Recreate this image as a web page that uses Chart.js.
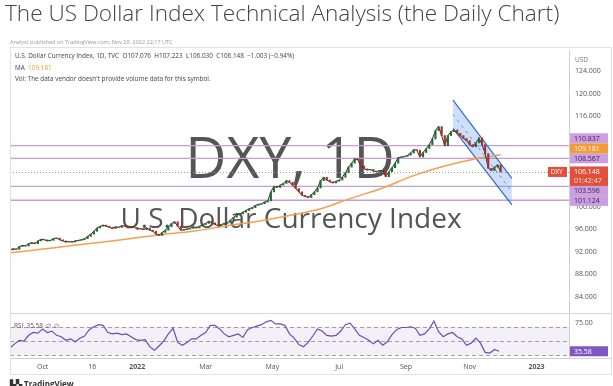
<!DOCTYPE html>
<html>
<head>
<meta charset="utf-8">
<script src="https://cdn.jsdelivr.net/npm/chart.js@4.4.0/dist/chart.umd.min.js"></script>
<style>
  html, body { margin: 0; padding: 0; background: #fff; }
  #wrap { position: relative; width: 613px; height: 386px; overflow: hidden; font-family: "Open Sans", sans-serif; }
  #title { position: absolute; left: 5px; top: -3px; font-size: 22.6px; font-weight: 300; color: #444; white-space: nowrap; }
  #pub { position: absolute; left: 10px; top: 38px; font-size: 5.5px; color: #9a9a9a; white-space: nowrap; }
  #legend { position: absolute; left: 15px; top: 50px; font-size: 6.4px; color: #444; line-height: 11.5px; white-space: nowrap; }
  #legend .ma { color: #f39c35; }
  #rsiLegend { position: absolute; left: 14px; top: 321px; font-size: 6.4px; color: #555; white-space: nowrap; }
  #tv { position: absolute; left: 10px; top: 378px; font-size: 8px; font-weight: bold; color: #333; white-space: nowrap; }
  canvas { position: absolute; left: 0; top: 0; }
</style>
</head>
<body>
<div id="wrap">
  <canvas id="dxyChart" width="613" height="386"></canvas>
  <div id="title">The US Dollar Index Technical Analysis (the Daily Chart)</div>
  <div id="pub">Analyst published on TradingView.com, Nov 29, 2022 22:17 UTC</div>
  <div id="legend">
    U.S. Dollar Currency Index, 1D, TVC&nbsp; O107.076&nbsp; H107.223&nbsp; L106.030&nbsp; C106.148&nbsp; −1.003 (−0.94%)<br>
    MA&nbsp; <span class="ma">109.181</span><br>
    Vol: The data vendor doesn't provide volume data for this symbol.
  </div>
  <div id="rsiLegend">RSI&nbsp; 35.58&nbsp; ∅&nbsp; ∅</div>
  <div id="tv">▙▚ TradingView</div>
</div>
<script>
// daily closes, read every 2nd trading day (Sep 2021 - Nov 2022)
var barStep = 2;
var closes = [
	92.3, 92.5, 92.4, 92.9, 93.1, 93.0, 93.4, 93.6, 93.4, 93.9,
	94.2, 94.1, 93.9, 94.0, 94.3, 94.4, 94.1, 93.9, 93.7, 93.8,
	93.7, 93.9, 94.0, 94.1, 94.3, 94.7, 95.1, 95.6, 96.2, 96.5,
	96.7, 96.5, 96.3, 96.1, 96.4, 96.3, 96.6, 96.5, 96.2, 96.4,
	96.3, 96.0, 96.1, 95.9, 96.2, 95.8, 95.6, 95.1, 94.9, 95.4,
	95.8, 96.4, 97.0, 97.3, 96.5, 95.8, 95.9, 96.0, 96.1, 96.4,
	96.2, 96.5, 96.8, 97.0, 97.4, 97.1, 96.8, 96.6, 96.8, 97.0,
	97.1, 97.6, 98.1, 98.5, 98.7, 99.0, 99.3, 99.6, 99.8, 100.2,
	100.4, 100.5, 100.8, 101.0, 102.6, 103.6, 103.4, 103.8, 104.1, 104.6,
	104.3, 103.8, 103.2, 102.6, 102.0, 101.8, 101.6, 102.1, 102.6, 103.3,
	104.6, 105.2, 104.7, 104.4, 104.2, 104.5, 104.7, 105.2, 106.0, 107.0,
	107.7, 108.5, 108.3, 107.2, 106.7, 106.5, 106.6, 106.3, 106.2, 106.4,
	106.4, 105.3, 106.2, 106.9, 107.7, 108.7, 108.8, 108.9, 109.1, 109.5,
	110.1, 110.0, 108.8, 109.6, 110.3, 111.0, 112.0, 113.5, 114.2, 112.6,
	110.8, 112.6, 113.3, 113.6, 113.0, 112.6, 112.1, 111.7, 111.0, 110.6,
	111.3, 112.2, 111.0, 109.4, 106.8, 106.4, 107.0, 107.4, 106.148
];
// moving average
var maBars = [0, 20, 40, 60, 80, 100, 120, 140, 160, 180, 200, 220, 240, 260, 280, 300, 316];
var maValues = [91.8, 92.4, 93.1, 93.7, 94.4, 95.1, 95.7, 96.6, 97.4, 98.4, 99.6, 101.5, 103.3, 105.5, 107.2, 108.5, 109.181];
// RSI, read every 3rd trading day
var rsiStep = 3;
var rsiValues = [
	40, 46, 51, 50, 58, 62, 61, 67, 62, 64,
	58, 56, 51, 53, 49, 54, 57, 66, 70, 73,
	72, 62, 60, 61, 59, 60, 56, 52, 51, 52,
	42, 37, 43, 50, 60, 68, 48, 44, 48, 53,
	53, 58, 62, 72, 72, 67, 60, 56, 58, 60,
	55, 66, 69, 71, 73, 77, 79, 74, 74, 72,
	60, 54, 45, 42, 48, 57, 67, 64, 58, 57,
	58, 64, 73, 75, 67, 58, 55, 51, 46, 51,
	44, 49, 59, 66, 69, 69, 70, 68, 58, 60,
	67, 78, 63, 56, 60, 62, 56, 53, 44, 47,
	54, 47, 34, 33, 38, 35.58
];
// horizontal levels drawn on the chart
var levels = [110.837, 108.567, 103.596, 101.124];
// descending channel (bar index / price)
var channelBars = [285.3, 323.2];
var channelTop = [118.9, 105.0];
var channelMid = [116.4, 102.65];
var channelBottom = [113.9, 100.3];
// axes
var priceTicks = [84, 88, 92, 96, 100, 116, 120, 124];
var rsiTicks = [75];
var tickBars = [21, 53, 82, 126, 169, 212, 255, 296, 339];
var tickLabels = ['Oct', '16', '2022', 'Mar', 'May', 'Jul', 'Sep', 'Nov', '2023'];

var lastClose = closes[closes.length - 1];
var lastMa = maValues[maValues.length - 1];
var lastRsi = rsiValues[rsiValues.length - 1];

Chart.defaults.font.family = '"Open Sans", sans-serif';
Chart.defaults.color = '#555';

function pts(bars, vals) {
	return vals.map(function(v, i) { return {x: bars[i], y: v}; });
}

function labelBox(ctx, yc, bg, fg, text) {
	ctx.fillStyle = bg;
	ctx.fillRect(570, yc - 5, 38, 10);
	ctx.fillStyle = fg;
	ctx.textBaseline = 'middle';
	ctx.textAlign = 'left';
	ctx.fillText(text, 574, yc + 0.5);
}

var overlay = {
	id: 'overlay',
	beforeDatasetsDraw: function(chart) {
		var ctx = chart.ctx, a = chart.chartArea, y = chart.scales.y, r = chart.scales.yRsi;
		ctx.save();
		// watermark
		ctx.fillStyle = '#555';
		ctx.textAlign = 'center';
		ctx.textBaseline = 'alphabetic';
		ctx.font = '400 57px "Open Sans", sans-serif';
		ctx.fillText('DXY, 1D', 290, 178);
		ctx.font = '400 28px "Open Sans", sans-serif';
		ctx.fillText('U.S. Dollar Currency Index', 291, 228);
		// rsi band
		ctx.fillStyle = 'rgba(126,87,194,0.09)';
		ctx.fillRect(a.left, r.getPixelForValue(70), a.right - a.left, r.getPixelForValue(30) - r.getPixelForValue(70));
		ctx.strokeStyle = '#a0a0a0';
		ctx.lineWidth = 1;
		ctx.setLineDash([4, 3]);
		[70, 50, 30].forEach(function(v) {
			var py = Math.round(r.getPixelForValue(v)) + 0.5;
			ctx.beginPath(); ctx.moveTo(a.left, py); ctx.lineTo(a.right, py); ctx.stroke();
		});
		// last price dotted line
		ctx.setLineDash([1, 2]);
		ctx.strokeStyle = '#9a9a9a';
		var lp = Math.round(y.getPixelForValue(lastClose)) + 0.5;
		ctx.beginPath(); ctx.moveTo(a.left, lp); ctx.lineTo(a.right, lp); ctx.stroke();
		// levels
		ctx.setLineDash([]);
		ctx.strokeStyle = '#c4a0d2';
		ctx.lineWidth = 1.3;
		levels.forEach(function(v) {
			var py = y.getPixelForValue(v);
			ctx.beginPath(); ctx.moveTo(a.left, py); ctx.lineTo(a.right, py); ctx.stroke();
		});
		ctx.restore();
	},
	afterDraw: function(chart) {
		var ctx = chart.ctx, a = chart.chartArea, y = chart.scales.y, r = chart.scales.yRsi;
		ctx.save();
		// pane separator, frame
		ctx.strokeStyle = '#d6d6d6';
		ctx.lineWidth = 1;
		var sep = Math.round(y.bottom) + 0.5;
		ctx.beginPath(); ctx.moveTo(a.left, sep); ctx.lineTo(612, sep); ctx.stroke();
		ctx.beginPath(); ctx.moveTo(569, a.bottom + 0.5); ctx.lineTo(612, a.bottom + 0.5); ctx.stroke();
		ctx.strokeStyle = '#e2e2e2';
		ctx.strokeRect(10.5, 47.5, 601, 327);
		ctx.font = '6.5px "Open Sans", sans-serif';
		ctx.fillStyle = '#777';
		ctx.textAlign = 'left';
		ctx.textBaseline = 'middle';
		ctx.fillText('USD', 575, 60);

		// price labels, pushed apart around the last price tag
		var lastY = y.getPixelForValue(lastClose);
		var items = levels.map(function(v) { return {v: v, bg: '#cb9fe0', fg: '#3b2a4f'}; });
		items.push({v: lastMa, bg: '#f39c35', fg: '#fff'});
		var above = items.filter(function(it) { return it.v > lastClose; }).sort(function(p, q) { return p.v - q.v; });
		var below = items.filter(function(it) { return it.v < lastClose; }).sort(function(p, q) { return q.v - p.v; });
		var lim = lastY - 5.5;
		above.forEach(function(it) {
			it.py = Math.min(y.getPixelForValue(it.v), lim - 5);
			lim = it.py - 5;
		});
		lim = lastY + 14;
		below.forEach(function(it) {
			it.py = Math.max(y.getPixelForValue(it.v), lim + 5);
			lim = it.py + 5;
		});
		ctx.font = '7px "Open Sans", sans-serif';
		above.concat(below).forEach(function(it) {
			labelBox(ctx, it.py, it.bg, it.fg, it.v.toFixed(3));
		});
		// last price tag
		ctx.fillStyle = '#e0503c';
		ctx.fillRect(570, lastY - 5.5, 38, 19.5);
		ctx.fillRect(548, lastY - 5, 19, 10);
		ctx.fillStyle = '#fff';
		ctx.fillText(lastClose.toFixed(3), 574, lastY + 0.5);
		ctx.fillStyle = '#ffe0da';
		ctx.fillText('01:42:47', 574, lastY + 9);
		ctx.fillStyle = '#fff';
		ctx.font = '6.5px "Open Sans", sans-serif';
		ctx.fillText('DXY', 550.5, lastY + 0.5);
		// rsi tag
		ctx.font = '7px "Open Sans", sans-serif';
		labelBox(ctx, r.getPixelForValue(lastRsi), '#7e57c2', '#fff', lastRsi.toFixed(2));
		ctx.restore();
	}
};

var bodies = closes.map(function(c, i) {
	return {x: i * barStep, y: [i ? closes[i - 1] : c, c]};
});

var dxyChart = new Chart(document.getElementById('dxyChart'), {
	type: 'line',
	data: {
		datasets: [
			{
				type: 'bar',
				data: bodies,
				yAxisID: 'y',
				barThickness: 1.5,
				backgroundColor: function(c) {
					var d = c.raw;
					return d && d.y[1] >= d.y[0] ? '#2a6b35' : '#a8322a';
				}
			},
			{
				data: closes.map(function(c, i) { return {x: i * barStep, y: c}; }),
				yAxisID: 'y',
				borderColor: '#2b2f2b',
				borderWidth: 1,
				pointRadius: 0
			},
			{
				data: pts(maBars, maValues),
				yAxisID: 'y',
				borderColor: '#f4a04e',
				borderWidth: 1.5,
				pointRadius: 0,
				cubicInterpolationMode: 'monotone'
			},
			{
				data: rsiValues.map(function(v, i) { return {x: i * rsiStep, y: v}; }),
				yAxisID: 'yRsi',
				borderColor: '#6a4fb3',
				borderWidth: 1.2,
				pointRadius: 0
			},
			{
				data: pts(channelBars, channelTop),
				yAxisID: 'y',
				borderColor: '#3366d6',
				borderWidth: 1.2,
				pointRadius: 0
			},
			{
				data: pts(channelBars, channelBottom),
				yAxisID: 'y',
				borderColor: '#3366d6',
				borderWidth: 1.2,
				pointRadius: 0,
				fill: '-1',
				backgroundColor: 'rgba(60,130,230,0.25)'
			},
			{
				data: pts(channelBars, channelMid),
				yAxisID: 'y',
				borderColor: '#6f9be6',
				borderWidth: 1,
				borderDash: [3, 4],
				pointRadius: 0
			}
		]
	},
	plugins: [overlay],
	options: {
		responsive: false,
		animation: false,
		events: [],
		layout: {
			padding: {left: 10, top: 50, right: 1, bottom: 11}
		},
		plugins: {
			legend: {display: false},
			tooltip: {enabled: false}
		},
		scales: {
			x: {
				type: 'linear',
				min: 0,
				max: 360,
				offset: false,
				grid: {display: false, drawTicks: false},
				border: {display: true, color: '#d0d0d0'},
				afterBuildTicks: function(axis) {
					axis.ticks = tickBars.map(function(v) { return {value: v}; });
				},
				afterFit: function(axis) { axis.height = 17; },
				ticks: {
					autoSkip: false,
					maxRotation: 0,
					padding: 5,
					color: '#555',
					font: function(c) {
						return {size: 7, weight: /^20/.test(tickLabels[c.index]) ? 'bold' : 'normal'};
					},
					callback: function(v, i) { return tickLabels[i]; }
				}
			},
			y: {
				position: 'right',
				stack: 'panes',
				stackWeight: 263,
				min: 81.1,
				max: 127.8,
				grid: {display: false, drawTicks: false},
				border: {display: true, color: '#d0d0d0'},
				afterBuildTicks: function(axis) {
					axis.ticks = priceTicks.map(function(v) { return {value: v}; });
				},
				afterFit: function(axis) { axis.width = 43; },
				ticks: {
					padding: 6,
					color: '#555',
					font: {size: 7},
					callback: function(v) { return v.toFixed(3); }
				}
			},
			yRsi: {
				axis: 'y',
				type: 'linear',
				position: 'right',
				stack: 'panes',
				stackWeight: 45,
				min: 26.1,
				max: 89.4,
				grid: {display: false, drawTicks: false},
				border: {display: true, color: '#d0d0d0'},
				afterBuildTicks: function(axis) {
					axis.ticks = rsiTicks.map(function(v) { return {value: v}; });
				},
				afterFit: function(axis) { axis.width = 43; },
				ticks: {
					padding: 6,
					color: '#555',
					font: {size: 7},
					callback: function(v) { return v.toFixed(2); }
				}
			}
		}
	}
});
</script>
</body>
</html>
